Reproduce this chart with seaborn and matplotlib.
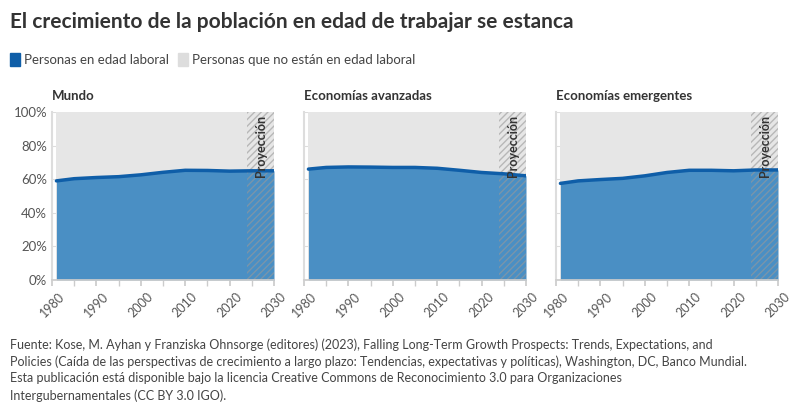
import matplotlib
matplotlib.use("Agg")
import matplotlib.pyplot as plt
import seaborn as sns
import numpy as np

sns.set_theme(style="white")
plt.rcParams['font.family'] = ['Lato', 'DejaVu Sans']

years = [1981, 1985, 1990, 1995, 2000, 2005, 2010, 2015, 2020, 2025, 2030]
regions = ["Mundo", "Economías avanzadas", "Economías emergentes"]
working = {
    "Mundo": [59.0, 60.3, 61.0, 61.5, 62.6, 64.1, 65.3, 65.2, 64.8, 65.0, 65.0],
    "Economías avanzadas": [66.0, 67.0, 67.3, 67.2, 67.0, 67.0, 66.5, 65.3, 64.0, 63.2, 62.0],
    "Economías emergentes": [57.5, 59.0, 59.8, 60.5, 62.0, 64.0, 65.3, 65.3, 65.0, 65.5, 65.5],
}
proj_start = 2024
blue = "#4a8fc4"
line_blue = "#0f5ea8"
grey = "#e6e6e6"

fig = plt.figure(figsize=(8, 4.18), dpi=100)
W, H = 800, 418
lefts = [52, 304, 556]
for i, reg in enumerate(regions):
    ax = fig.add_axes([lefts[i] / W, 1 - 280 / H, 222 / W, 168 / H])
    y = np.array(working[reg])
    ax.fill_between(years, 0, 100, color=grey, lw=0)
    ax.fill_between(years, 0, y, color=blue, lw=0)
    sns.lineplot(x=years, y=y, ax=ax, color=line_blue, lw=2.5)
    ax.fill_between([proj_start, 2030], 0, 100, facecolor="none", hatch="/////",
                    edgecolor="#999999", lw=0, alpha=0.6)
    ax.text(2027, 98, "Proyección", rotation=90, ha="center", va="top",
            fontsize=9, fontweight="bold", color="#333333")
    ax.set_xlim(1980, 2030)
    ax.set_ylim(0, 100)
    ax.set_xticks(range(1980, 2031, 10))
    ax.set_xticks(range(1985, 2031, 10), minor=True)
    ax.tick_params(axis="x", which="both", length=4, color="#cccccc",
                   labelsize=9, labelcolor="#555555", bottom=True)
    for lab in ax.get_xticklabels():
        lab.set_rotation(45)
    ax.set_yticks(range(0, 101, 20))
    ax.yaxis.grid(True, color="#dddddd", lw=0.8)
    if i == 0:
        ax.set_yticklabels([f"{v}%" for v in range(0, 101, 20)])
        ax.tick_params(axis="y", labelsize=9.5, labelcolor="#555555", length=0)
    else:
        ax.set_yticklabels([])
        ax.tick_params(axis="y", length=0)
    for s in ["top", "right"]:
        ax.spines[s].set_visible(False)
    ax.spines["bottom"].set_color("#cccccc")
    ax.spines["left"].set_color("#dddddd")
    ax.spines["left"].set_linewidth(1.5)
    ax.set_title(reg, loc="left", fontsize=9.5, fontweight="bold", color="#333333", pad=9, x=0.0)

fig.text(10 / W, 1 - 22 / H, "El crecimiento de la población en edad de trabajar se estanca",
         fontsize=15, fontweight="bold", color="#333333", va="center")
fig.patches.append(plt.Rectangle((10 / W, 1 - 66 / H), 10 / W, 13 / H, transform=fig.transFigure,
                                 color=line_blue))
fig.text(24 / W, 1 - 60 / H, "Personas en edad laboral", fontsize=9.5, color="#444444", va="center")
fig.patches.append(plt.Rectangle((178 / W, 1 - 66 / H), 10 / W, 13 / H, transform=fig.transFigure,
                                 color="#dddddd"))
fig.text(192 / W, 1 - 60 / H, "Personas que no están en edad laboral", fontsize=9.5, color="#444444", va="center")

fig.text(10 / W, 1 - 338 / H,
         "Fuente: Kose, M. Ayhan y Franziska Ohnsorge (editores) (2023), Falling Long-Term Growth Prospects: Trends, Expectations, and\n"
         "Policies (Caída de las perspectivas de crecimiento a largo plazo: Tendencias, expectativas y políticas), Washington, DC, Banco Mundial.\n"
         "Esta publicación está disponible bajo la licencia Creative Commons de Reconocimiento 3.0 para Organizaciones\n"
         "Intergubernamentales (CC BY 3.0 IGO).",
         fontsize=9, color="#444444", va="top", linespacing=1.45)

fig.savefig("out.png", dpi=100)
